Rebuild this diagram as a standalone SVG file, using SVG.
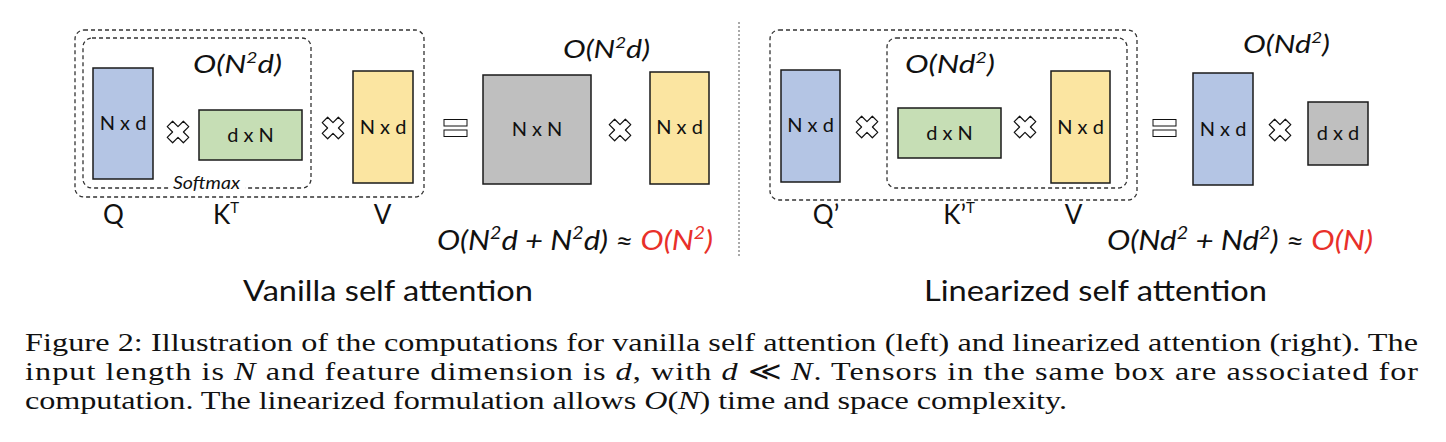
<svg xmlns="http://www.w3.org/2000/svg" xmlns:xlink="http://www.w3.org/1999/xlink" width="1446" height="442" viewBox="0 0 1446 442">
<style>
.sans{font-family:Lato,"Noto Sans","DejaVu Sans",sans-serif;fill:#111}
.it{font-style:italic}
.mat{stroke:#1a1a1a;stroke-width:1.5}
.blue{fill:#B4C5E4}.green{fill:#C6DEB5}.yellow{fill:#FBE5A1}.gray{fill:#BFBFBF}
.dash{fill:none;stroke:#333;stroke-width:1.3;stroke-dasharray:4 3}
.dim{font-size:20px;text-anchor:middle}
.cx{fill:#fff;stroke:#111;stroke-width:1.2;stroke-linejoin:round}
.lbl{font-size:26px;text-anchor:middle}
.cplx{font-size:26px;font-style:italic}
.red{fill:#E8302A}
.title{font-size:29px}
.cap{font-family:"Liberation Serif","Times New Roman",serif;font-size:26px;fill:#111}
</style>
<defs>
<path id="cross" class="cx" d="M5.35,-10.78 L10.78,-5.35 L5.43,0 L10.78,5.35 L5.35,10.78 L0,5.43 L-5.35,10.78 L-10.78,5.35 L-5.43,0 L-10.78,-5.35 L-5.35,-10.78 L0,-5.43 Z"/>
<g id="eq"><rect x="0" y="0" width="23" height="6.5" fill="#fff" stroke="#111" stroke-width="1"/><rect x="0" y="10.5" width="23" height="6.5" fill="#fff" stroke="#111" stroke-width="1"/></g>
</defs>
<rect width="1446" height="442" fill="#fff"/>

<g id="vanilla-boxes">
<rect class="dash" x="75" y="30" width="349" height="167" rx="9"/>
<rect class="dash" x="83" y="38" width="228" height="150" rx="9"/>
<rect x="169" y="180" width="76" height="16" fill="#fff"/>
<text class="sans it" x="173" y="189" font-size="17" textLength="67" lengthAdjust="spacingAndGlyphs">Softmax</text>
</g>
<g id="q"><rect class="mat blue" x="93" y="68" width="60" height="111"/><text class="sans dim" x="123" y="130">N x d</text></g>
<g id="kt"><rect class="mat green" x="199" y="110" width="103" height="50"/><text class="sans dim" x="250.5" y="142">d x N</text></g>
<g id="v"><rect class="mat yellow" x="353" y="71" width="60" height="112"/><text class="sans dim" x="383" y="134">N x d</text></g>
<g id="nxn"><rect class="mat gray" x="483" y="75" width="108" height="109"/><text class="sans dim" x="537" y="136">N x N</text></g>
<g id="v2"><rect class="mat yellow" x="650" y="72" width="59" height="112"/><text class="sans dim" x="679.5" y="134">N x d</text></g>

<g id="linear-boxes">
<rect class="dash" x="770" y="30" width="367" height="170" rx="9"/>
<rect class="dash" x="887" y="38" width="240" height="150" rx="9"/>
</g>
<g id="q2"><rect class="mat blue" x="781" y="70" width="59" height="112"/><text class="sans dim" x="810.5" y="132">N x d</text></g>
<g id="kt2"><rect class="mat green" x="898" y="108" width="103" height="50"/><text class="sans dim" x="949.5" y="140">d x N</text></g>
<g id="v3"><rect class="mat yellow" x="1051" y="71" width="59" height="112"/><text class="sans dim" x="1080.5" y="134">N x d</text></g>
<g id="nxd"><rect class="mat blue" x="1193" y="73" width="60" height="112"/><text class="sans dim" x="1223" y="136">N x d</text></g>
<g id="dxd"><rect class="mat gray" x="1308" y="102" width="60" height="63"/><text class="sans dim" x="1338" y="140">d x d</text></g>

<g id="connectors">
<use xlink:href="#cross" x="178" y="132"/>
<use xlink:href="#cross" x="333" y="128"/>
<use xlink:href="#eq" x="444" y="119.5"/>
<use xlink:href="#cross" x="620" y="130"/>
<use xlink:href="#cross" x="867" y="127"/>
<use xlink:href="#cross" x="1025" y="127"/>
<use xlink:href="#eq" x="1153" y="119.5"/>
<use xlink:href="#cross" x="1280" y="130"/>
<line x1="739" y1="22" x2="739" y2="258" stroke="#555" stroke-width="1" stroke-dasharray="2 2"/>
</g>

<g id="labels">
<text class="sans lbl" x="113.5" y="224">Q</text>
<text class="sans lbl" x="226" y="224">K<tspan font-size="15" dy="-11">T</tspan></text>
<text class="sans lbl" x="382.5" y="224">V</text>
<text class="sans lbl" x="826" y="224">Q’</text>
<text class="sans lbl" x="959" y="224">K’<tspan font-size="15" dy="-11">T</tspan></text>
<text class="sans lbl" x="1073.5" y="224">V</text>

<text class="sans cplx" x="193" y="73" textLength="89" lengthAdjust="spacingAndGlyphs">O(N<tspan font-size="16" dy="-10">2</tspan><tspan dy="10">d)</tspan></text>
<text class="sans cplx" x="563" y="58" textLength="87" lengthAdjust="spacingAndGlyphs">O(N<tspan font-size="16" dy="-10">2</tspan><tspan dy="10">d)</tspan></text>
<text class="sans cplx" x="905" y="73" textLength="90" lengthAdjust="spacingAndGlyphs">O(Nd<tspan font-size="16" dy="-10">2</tspan><tspan dy="10">)</tspan></text>
<text class="sans cplx" x="1243" y="53" textLength="87" lengthAdjust="spacingAndGlyphs">O(Nd<tspan font-size="16" dy="-10">2</tspan><tspan dy="10">)</tspan></text>

<text class="sans it" x="437" y="250" font-size="27" textLength="276" lengthAdjust="spacingAndGlyphs">O(N<tspan font-size="17" dy="-11">2</tspan><tspan dy="11">d + N</tspan><tspan font-size="17" dy="-11">2</tspan><tspan dy="11">d) ≈ </tspan><tspan class="red">O(N</tspan><tspan class="red" font-size="17" dy="-11">2</tspan><tspan class="red" dy="11">)</tspan></text>
<text class="sans it" x="1107" y="250" font-size="27" textLength="266" lengthAdjust="spacingAndGlyphs">O(Nd<tspan font-size="17" dy="-11">2</tspan><tspan dy="11"> + Nd</tspan><tspan font-size="17" dy="-11">2</tspan><tspan dy="11">) ≈ </tspan><tspan class="red">O(N)</tspan></text>

<text class="sans title" x="243" y="301" textLength="290" lengthAdjust="spacingAndGlyphs">Vanilla self attention</text>
<text class="sans title" x="924" y="301" textLength="343" lengthAdjust="spacingAndGlyphs">Linearized self attention</text>
</g>

<g id="caption" transform="scale(1.24,1)">
<text class="cap" x="20.2" y="351" textLength="1123.4" lengthAdjust="spacing">Figure 2: Illustration of the computations for vanilla self attention (left) and linearized attention (right). The</text>
<text class="cap" x="20.2" y="380" textLength="1123.4" lengthAdjust="spacing">input length is <tspan font-style="italic">N</tspan> and feature dimension is <tspan font-style="italic">d</tspan>, with <tspan font-style="italic">d</tspan> ≪ <tspan font-style="italic">N</tspan>. Tensors in the same box are associated for</text>
<text class="cap" x="20.2" y="409" textLength="840.3" lengthAdjust="spacing">computation. The linearized formulation allows <tspan font-style="italic">O</tspan>(<tspan font-style="italic">N</tspan>) time and space complexity.</text>
</g>
</svg>
